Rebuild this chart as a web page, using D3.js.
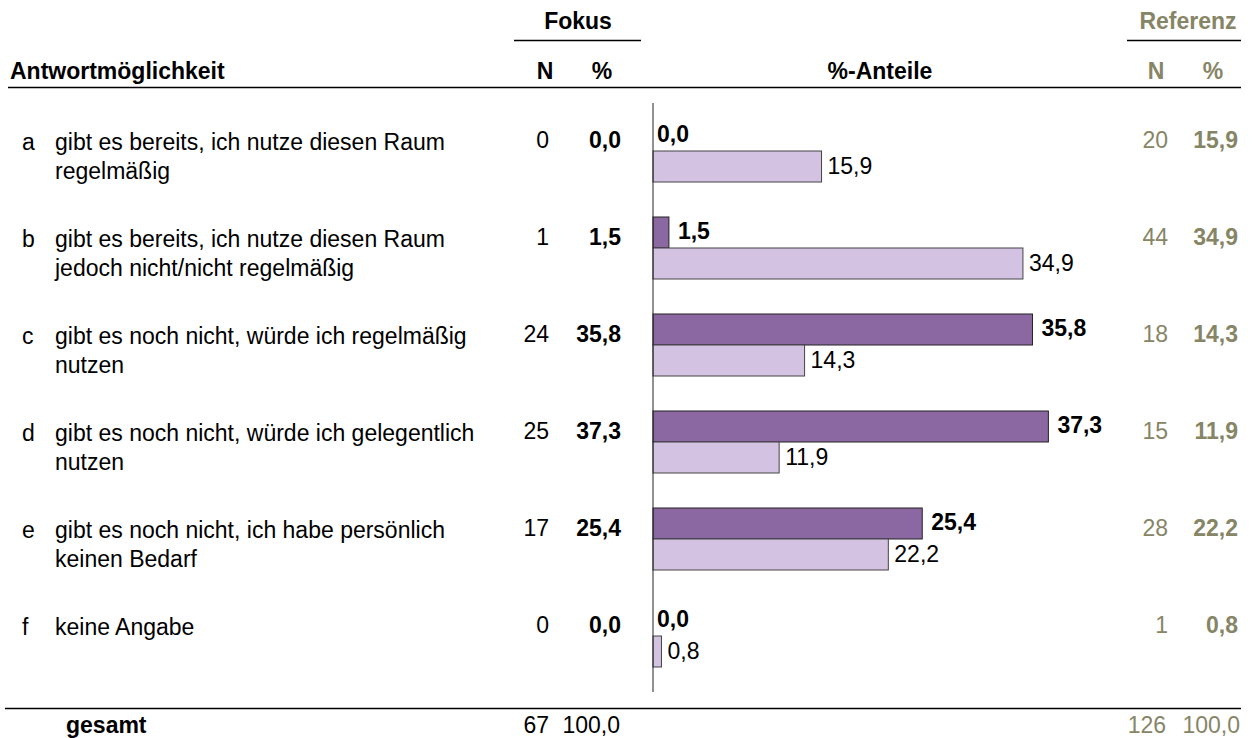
<!DOCTYPE html>
<html>
<head>
<meta charset="utf-8">
<script src="https://cdn.jsdelivr.net/npm/d3@7"></script>
<style>
  body { margin: 0; background: #fff; }
  svg text { font-family: "Liberation Sans", Arial, sans-serif; }
</style>
</head>
<body>
<div id="chart"></div>
<script>
// data
var letters   = ["a", "b", "c", "d", "e", "f"];
var answers   = [
  ["gibt es bereits, ich nutze diesen Raum", "regelmäßig"],
  ["gibt es bereits, ich nutze diesen Raum", "jedoch nicht/nicht regelmäßig"],
  ["gibt es noch nicht, würde ich regelmäßig", "nutzen"],
  ["gibt es noch nicht, würde ich gelegentlich", "nutzen"],
  ["gibt es noch nicht, ich habe persönlich", "keinen Bedarf"],
  ["keine Angabe"]
];
var fokusN    = [0, 1, 24, 25, 17, 0];
var fokusPct  = [0.0, 1.5, 35.8, 37.3, 25.4, 0.0];
var refN      = [20, 44, 18, 15, 28, 1];
var refPct    = [15.9, 34.9, 14.3, 11.9, 22.2, 0.8];
var fokusTotal = 67, refTotal = 126;

var width = 1254, height = 738;
var fs = 23;
var olive = "#868565";
var dark  = "#8b68a1";
var light = "#d3c2e2";

var fmt = function(v) { return v.toFixed(1).replace(".", ","); };

var svg = d3.select("#chart").append("svg")
    .attr("width", width)
    .attr("height", height);

var x = d3.scaleLinear()
    .domain([0, 40])
    .range([653, 653 + 424]);

// row centre = border between focus bar and reference bar
var y = d3.scaleBand()
    .domain(letters)
    .range([102.5, 684.5]);
var barH = 31;
function mid(d) { return y(d) + y.bandwidth() / 2; }

// header
svg.append("text").attr("x", 578).attr("y", 29).attr("text-anchor", "middle")
  .attr("font-size", fs).attr("font-weight", "bold").text("Fokus");
svg.append("line").attr("x1", 514).attr("x2", 641).attr("y1", 40.5).attr("y2", 40.5)
  .attr("stroke", "#000").attr("stroke-width", 1.3);
svg.append("text").attr("x", 1188).attr("y", 29).attr("text-anchor", "middle")
  .attr("font-size", fs).attr("font-weight", "bold").attr("fill", olive).text("Referenz");
svg.append("line").attr("x1", 1127).attr("x2", 1241).attr("y1", 40.5).attr("y2", 40.5)
  .attr("stroke", "#000").attr("stroke-width", 1.3);

var head = svg.append("g").attr("font-size", fs).attr("font-weight", "bold");
head.append("text").attr("x", 10).attr("y", 79).text("Antwortmöglichkeit");
head.append("text").attr("x", 545).attr("y", 79).attr("text-anchor", "middle").text("N");
head.append("text").attr("x", 602).attr("y", 79).attr("text-anchor", "middle").text("%");
head.append("text").attr("x", 880).attr("y", 79).attr("text-anchor", "middle").text("%-Anteile");
head.append("text").attr("x", 1156).attr("y", 79).attr("text-anchor", "middle").attr("fill", olive).text("N");
head.append("text").attr("x", 1213).attr("y", 79).attr("text-anchor", "middle").attr("fill", olive).text("%");

svg.append("line").attr("x1", 8).attr("x2", 1241).attr("y1", 87.5).attr("y2", 87.5)
  .attr("stroke", "#000").attr("stroke-width", 1.3);

// rows
var rows = svg.selectAll("g.row")
  .data(letters)
  .enter().append("g")
    .attr("class", "row")
    .attr("font-size", fs);

rows.append("text")
  .attr("x", 22).attr("y", function(d) { return mid(d) - 1; })
  .text(function(d) { return d; });

rows.each(function(d, i) {
  var t = d3.select(this).append("text")
    .attr("x", 55).attr("y", mid(d) - 1);
  answers[i].forEach(function(line, j) {
    t.append("tspan").attr("x", 55).attr("dy", j === 0 ? 0 : 29).text(line);
  });
});

rows.append("text")
  .attr("x", 549).attr("y", function(d) { return mid(d) - 3; })
  .attr("text-anchor", "end")
  .text(function(d, i) { return fokusN[i]; });
rows.append("text")
  .attr("x", 621).attr("y", function(d) { return mid(d) - 3; })
  .attr("text-anchor", "end").attr("font-weight", "bold")
  .text(function(d, i) { return fmt(fokusPct[i]); });

rows.append("text")
  .attr("x", 1168).attr("y", function(d) { return mid(d) - 3; })
  .attr("text-anchor", "end").attr("fill", olive)
  .text(function(d, i) { return refN[i]; });
rows.append("text")
  .attr("x", 1238).attr("y", function(d) { return mid(d) - 3; })
  .attr("text-anchor", "end").attr("font-weight", "bold").attr("fill", olive)
  .text(function(d, i) { return fmt(refPct[i]); });

// bars
rows.filter(function(d, i) { return fokusPct[i] > 0; })
  .append("rect")
  .attr("x", x(0))
  .attr("y", function(d) { return mid(d) - barH; })
  .attr("width", function(d) { return x(fokusPct[letters.indexOf(d)]) - x(0); })
  .attr("height", barH)
  .attr("fill", dark).attr("stroke", "#222").attr("stroke-width", 1);

rows.append("rect")
  .attr("x", x(0))
  .attr("y", function(d) { return mid(d); })
  .attr("width", function(d, i) { return x(refPct[i]) - x(0); })
  .attr("height", barH)
  .attr("fill", light).attr("stroke", "#444").attr("stroke-width", 1);

rows.append("text")
  .attr("x", function(d, i) { return x(fokusPct[i]) + (fokusPct[i] > 0 ? 9 : 4); })
  .attr("y", function(d) { return mid(d) - 9; })
  .attr("font-weight", "bold")
  .text(function(d, i) { return fmt(fokusPct[i]); });

rows.append("text")
  .attr("x", function(d, i) { return x(refPct[i]) + 6; })
  .attr("y", function(d) { return mid(d) + 23; })
  .text(function(d, i) { return fmt(refPct[i]); });

// axis line
svg.append("line")
  .attr("x1", x(0)).attr("x2", x(0))
  .attr("y1", 103).attr("y2", 692)
  .attr("stroke", "#222").attr("stroke-width", 1);

// total
svg.append("line").attr("x1", 5).attr("x2", 1241).attr("y1", 708.5).attr("y2", 708.5)
  .attr("stroke", "#000").attr("stroke-width", 1.3);
var tot = svg.append("g").attr("font-size", fs);
tot.append("text").attr("x", 66).attr("y", 733).attr("font-weight", "bold").text("gesamt");
tot.append("text").attr("x", 549).attr("y", 733).attr("text-anchor", "end").text(fokusTotal);
tot.append("text").attr("x", 620).attr("y", 733).attr("text-anchor", "end").text(fmt(100));
tot.append("text").attr("x", 1166).attr("y", 733).attr("text-anchor", "end").attr("fill", olive).text(refTotal);
tot.append("text").attr("x", 1240).attr("y", 733).attr("text-anchor", "end").attr("fill", olive).text(fmt(100));
</script>
</body>
</html>
